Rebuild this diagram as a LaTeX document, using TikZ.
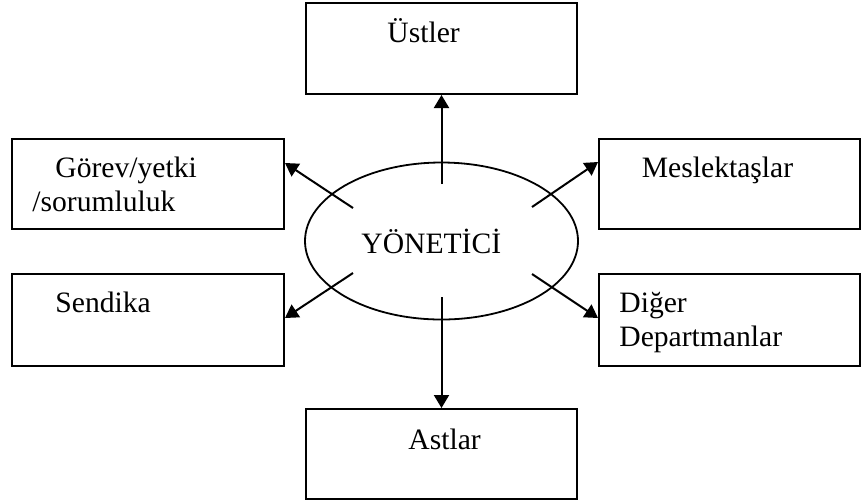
\documentclass[tikz,border=0pt]{standalone}
\usepackage{fontspec}
\setmainfont{Liberation Serif}
\usetikzlibrary{arrows.meta,shapes.geometric,calc}
\begin{document}
\begin{tikzpicture}[x=0.5pt,y=-0.5pt,
  box/.style={draw,line width=1pt,rectangle,inner sep=0pt},
  lbl/.style={anchor=base west,inner sep=0pt,font=\fontsize{14.8}{17}\selectfont},
  arr/.style={line width=1pt,-{Triangle[length=6.5pt,width=7.5pt]}}]
\useasboundingbox (0,0) rectangle (861,500);

% outer boxes
\node[box,minimum width=135.5pt,minimum height=45.5pt] (ust) at (441.5,48.5) {};
\node[box,minimum width=136pt,minimum height=45pt] (gorev) at (148,184) {};
\node[box,minimum width=136pt,minimum height=46pt] (sendika) at (148,320) {};
\node[box,minimum width=130.5pt,minimum height=45pt] (meslek) at (729.5,184) {};
\node[box,minimum width=130.5pt,minimum height=46pt] (diger) at (729.5,320) {};
\node[box,minimum width=135.5pt,minimum height=45pt] (ast) at (441.5,454) {};

% central ellipse
\node[draw,ellipse,line width=0.9pt,inner sep=0pt,minimum width=136.5pt,minimum height=78.5pt] (yon) at (441.5,241) {};

% labels
\node[lbl] (tUst) at (387,42) {Üstler};
\node[lbl] (tGorev1) at (55,177.5) {Görev/yetki};
\node[lbl] (tGorev2) at (32,211) {/sorumluluk};
\node[lbl] (tSendika) at (55,312.5) {Sendika};
\node[lbl] (tMeslek) at (641.5,177.5) {Meslektaşlar};
\node[lbl] (tDiger1) at (619,312.5) {Diğer};
\node[lbl] (tDiger2) at (619,346.5) {Departmanlar};
\node[lbl] (tYon) at (361,253) {YÖNETİCİ};
\node[lbl] (tAst) at (408,449) {Astlar};

% arrow start points inside the ellipse
\coordinate (sN) at (441.5,184);
\coordinate (sNW) at (353,208);
\coordinate (sSW) at (353,273);
\coordinate (sNE) at (532,207);
\coordinate (sSE) at (532,274);
\coordinate (sS) at (441.5,297);

% arrows
\draw[arr] (sN) -- (ust.south);
\draw[arr] (sNW) -- ([yshift=10.5pt]gorev.east);
\draw[arr] (sSW) -- ([yshift=1pt]sendika.east);
\draw[arr] (sNE) -- ([yshift=11pt]meslek.west);
\draw[arr] (sSE) -- ([yshift=1pt]diger.west);
\draw[arr] (sS) -- (ast.north);
\end{tikzpicture}
\end{document}
